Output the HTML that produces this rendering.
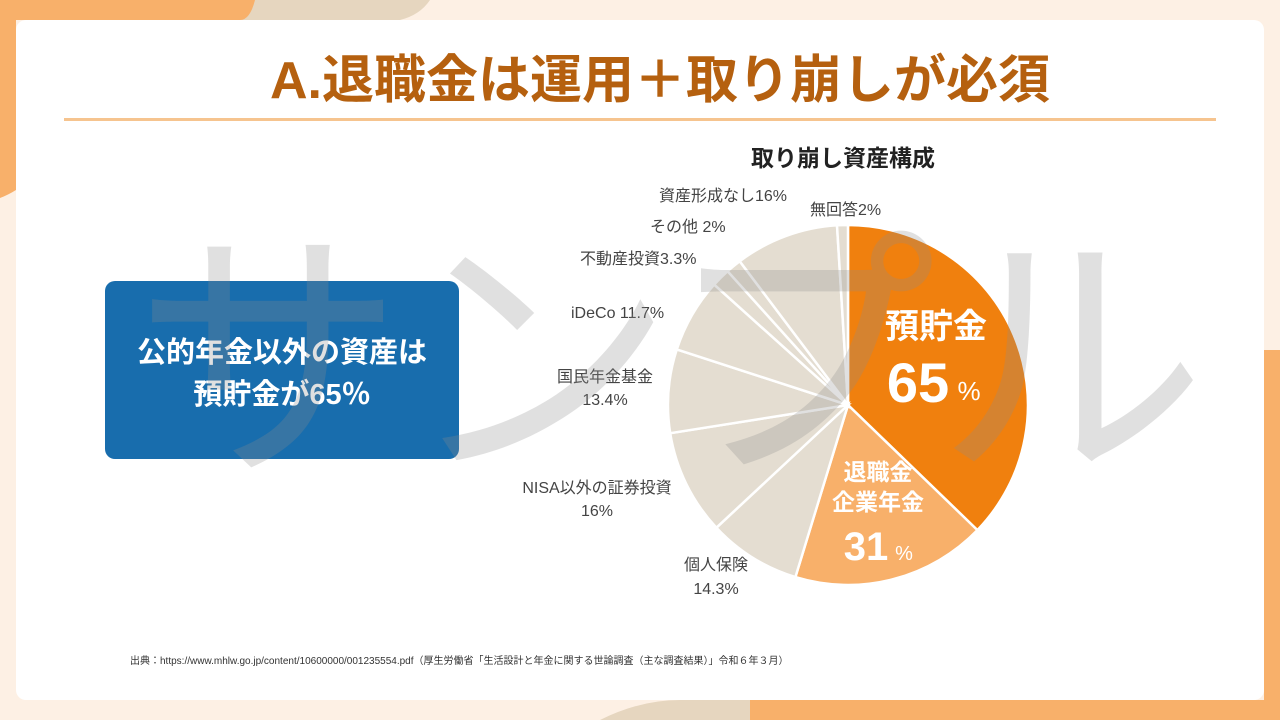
<!DOCTYPE html>
<html style="overflow:hidden"><head><meta charset="utf-8"><style>
html,body{margin:0;width:1280px;height:720px;overflow:hidden;}
body{background:#fdf0e4;font-family:"Liberation Sans","Noto Sans CJK JP",sans-serif;}
svg{display:block;position:absolute;left:0;top:0}
</style></head><body>
<svg width="1280" height="720" viewBox="0 0 1280 720" xmlns="http://www.w3.org/2000/svg">
<path d="M150,0 L430,0 Q420,15 400,20 L180,20 Z" fill="#e6d6bf"/>
<path d="M0,0 L255,0 Q250,20 240,20 L16,20 L16,190 Q8,195 0,198 Z" fill="#f8b06a"/>
<path d="M600,720 Q640,700 680,700 L750,700 L750,720 Z" fill="#e6d6bf"/>
<path d="M750,720 L750,700 L1264,700 L1264,350 L1280,350 L1280,720 Z" fill="#f8b06a"/>
<rect x="16" y="20" width="1248" height="680" rx="10" fill="#fff"/>
<text x="660" y="98" text-anchor="middle" font-size="52" font-weight="bold" fill="#b5600f">A.退職金は運用＋取り崩しが必須</text>
<rect x="64" y="118" width="1152" height="3" fill="#f6c48f"/>
<text x="843" y="166" text-anchor="middle" font-size="23" font-weight="bold" fill="#222">取り崩し資産構成</text>
<rect x="105" y="281" width="354" height="178" rx="10" fill="#186dad"/>
<text x="282" y="362" text-anchor="middle" font-size="29" font-weight="bold" fill="#fff">公的年金以外の資産は</text>
<text x="282" y="404" text-anchor="middle" font-size="29" font-weight="bold" fill="#fff">預貯金が65％</text>
<g transform="translate(848,405)" stroke="#fff" stroke-width="2.5">
<path d="M0,0 L0,-180 A180,180 0 0 1 129.4,125.1 Z" fill="#f0800e"/>
<path d="M0,0 L129.4,125.1 A180,180 0 0 1 -52.6,172.1 Z" fill="#f8b06a"/>
<path d="M0,0 L-52.6,172.1 A180,180 0 0 1 -131.6,122.7 Z" fill="#e4ddd1"/>
<path d="M0,0 L-131.6,122.7 A180,180 0 0 1 -177.8,28.2 Z" fill="#e4ddd1"/>
<path d="M0,0 L-177.8,28.2 A180,180 0 0 1 -171.2,-55.6 Z" fill="#e4ddd1"/>
<path d="M0,0 L-171.2,-55.6 A180,180 0 0 1 -133.8,-120.4 Z" fill="#e4ddd1"/>
<path d="M0,0 L-133.8,-120.4 A180,180 0 0 1 -120.4,-133.8 Z" fill="#e4ddd1"/>
<path d="M0,0 L-120.4,-133.8 A180,180 0 0 1 -108.3,-143.8 Z" fill="#e4ddd1"/>
<path d="M0,0 L-108.3,-143.8 A180,180 0 0 1 -11,-179.7 Z" fill="#e4ddd1"/>
<path d="M0,0 L-11,-179.7 A180,180 0 0 1 0,-180 Z" fill="#e4ddd1"/>
</g>
<g fill="#fff" font-weight="bold" text-anchor="middle">
<text x="936" y="338" font-size="34">預貯金</text>
<text x="918" y="402" font-size="56">65</text><text x="969" y="400" font-size="26" font-weight="normal">%</text>
<text x="878" y="480" font-size="23">退職金</text>
<text x="878" y="510" font-size="23">企業年金</text>
<text x="866" y="560" font-size="40">31</text><text x="904" y="560" font-size="20" font-weight="normal">%</text>
</g>
<g fill="#444" font-size="16">
<text x="659" y="201">資産形成なし16%</text>
<text x="810" y="215">無回答2%</text>
<text x="650" y="232">その他 2%</text>
<text x="580" y="264">不動産投資3.3%</text>
<text x="571" y="318">iDeCo 11.7%</text>
<text x="605" y="382" text-anchor="middle">国民年金基金</text>
<text x="605" y="405" text-anchor="middle">13.4%</text>
<text x="597" y="493" text-anchor="middle">NISA以外の証券投資</text>
<text x="597" y="516" text-anchor="middle">16%</text>
<text x="716" y="570" text-anchor="middle">個人保険</text>
<text x="716" y="594" text-anchor="middle">14.3%</text>
</g>
<text x="130" y="664" font-size="10" fill="#333">出典：https://www.mhlw.go.jp/content/10600000/001235554.pdf（厚生労働省「生活設計と年金に関する世論調査（主な調査結果）」令和６年３月）</text>
<text x="670" y="455" text-anchor="middle" font-size="270" fill="rgba(140,140,140,0.27)">サンプル</text>
</svg>
</body></html>
